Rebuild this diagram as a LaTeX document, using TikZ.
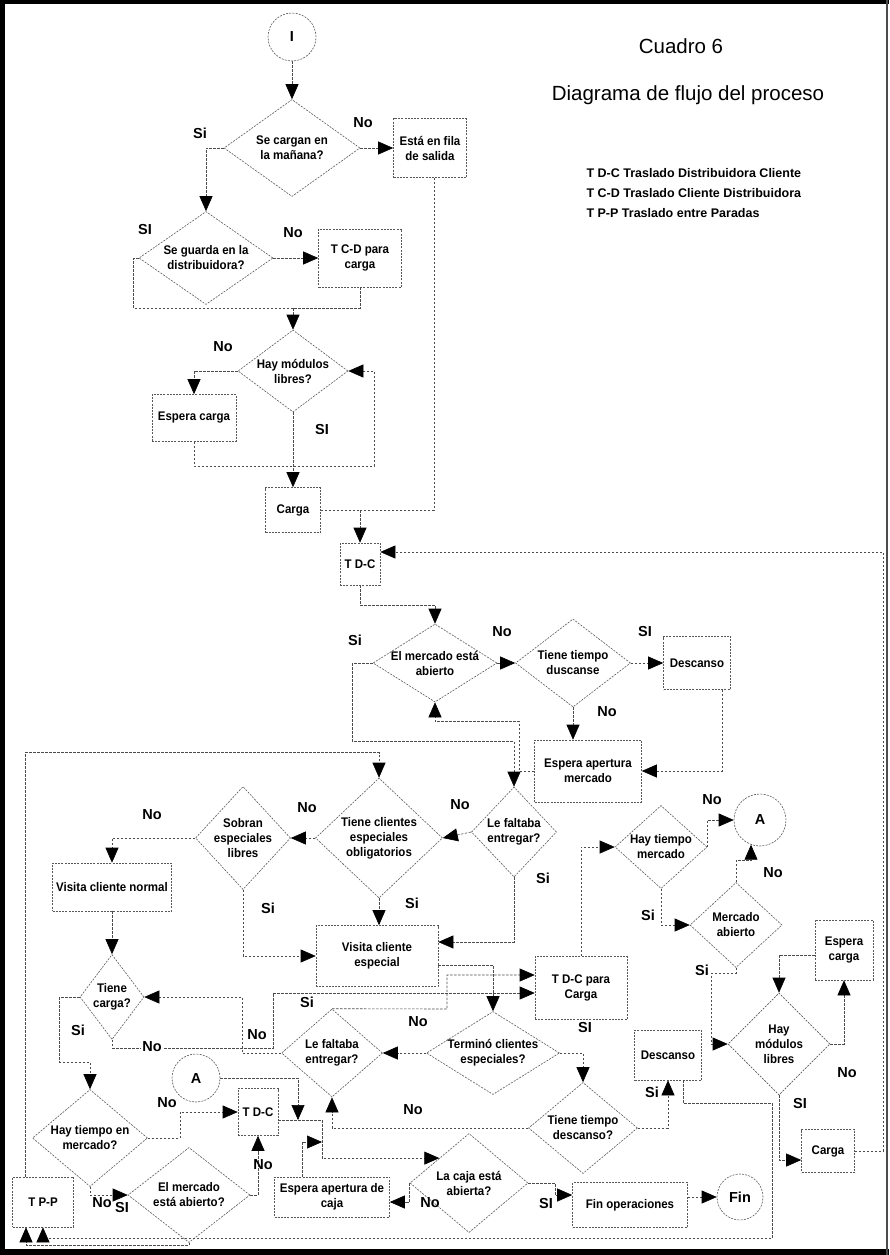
\documentclass[tikz,border=0pt]{standalone}
\usepackage{fontspec}
\setmainfont{Liberation Sans}
\newfontfamily\nfont[FakeStretch=0.92]{Liberation Sans}
\usetikzlibrary{arrows.meta,shapes.geometric}
\newcommand{\mynodefont}{\nfont\bfseries\fontsize{12.5}{15}\selectfont}
\newcommand{\mylabfont}{\bfseries\fontsize{14.5}{16}\selectfont}
\begin{document}
\begin{tikzpicture}[x=1pt,y=-1pt,
  ln/.style={draw=black!70, line width=0.6pt, dash pattern=on 2.5pt off 1.5pt},
  arr/.style={ln, -{Triangle[length=15pt,width=13pt,color=black]}},
  frm/.style={draw=black!65, line width=0.6pt, dash pattern=on 2pt off 1.2pt},
  bx/.style 2 args={frm, rectangle, minimum width=#1pt, minimum height=#2pt, inner sep=1pt, align=center, font=\mynodefont},
  dia/.style 2 args={frm, diamond, minimum width=#1pt, minimum height=#2pt, inner sep=0pt},
  dt/.style={align=center, font=\mynodefont, inner sep=0pt},
  cir/.style={frm, circle, minimum size=#1pt, inner sep=0pt, font=\mylabfont},
  lab/.style={font=\mylabfont, inner sep=1pt}]
\useasboundingbox (0,0) rectangle (889,1255);
% frame
\draw[line width=5pt] (2.5,0) -- (2.5,1255);
\draw[line width=4pt] (0,2) -- (889,2);
\draw[line width=6pt] (0,1252) -- (889,1252);
\draw[line width=1.2pt, black!70] (887,0) -- (887,1255);

% title
\node[font=\fontsize{20.5}{24}\selectfont] (t1) at (681,46) {Cuadro 6};
\node[font=\fontsize{20.5}{24}\selectfont] (t2) at (688,95) {Diagrama de flujo del proceso};
\node[anchor=west, font=\bfseries\fontsize{12.5}{14}\selectfont] (l1) at (583,173) {T D-C Traslado Distribuidora Cliente};
\node[anchor=west, font=\bfseries\fontsize{12.5}{14}\selectfont] (l2) at (583,193) {T C-D Traslado Cliente Distribuidora};
\node[anchor=west, font=\bfseries\fontsize{12.5}{14}\selectfont] (l3) at (583,213) {T P-P Traslado entre Paradas};

% nodes
\node[cir=48] (I) at (292,37) {I};
\node[dia={136}{97}, label={[dt]center:{Se cargan en\\la mañana?}}] (d1) at (292,148) {};
\node[bx={73}{59}] (fila) at (430,148) {Está en fila\\de salida};
\node[dia={134}{93}, label={[dt]center:{Se guarda en la\\distribuidora?}}] (d2) at (206,258) {};
\node[bx={83}{58}] (tcd) at (360,258) {T C-D para\\carga};
\coordinate (m1) at (293,308);
\node[dia={110}{82}, label={[dt]center:{Hay módulos\\libres?}}] (d3) at (293,371) {};
\node[bx={84}{47}] (espc) at (194,418) {Espera carga};
\node[bx={55}{45}] (carga1) at (293,510) {Carga};
\coordinate (m2) at (360,510);
\node[bx={40}{42}] (tdc1) at (360,564) {T D-C};
\node[dia={124}{78}, label={[dt]center:{El mercado está\\abierto}}] (d4) at (435,663) {};
\node[dia={115}{88}, label={[dt]center:{Tiene tiempo\\duscanse}}] (d5) at (573,663) {};
\node[bx={67}{53}] (desc1) at (697,663) {Descanso};
\node[bx={107}{62}] (espm) at (588,771) {Espera apertura\\mercado};
\node[dia={127}{120}, label={[dt]center:{Tiene clientes\\especiales\\obligatorios}}] (d6) at (379,838) {};
\node[dia={95}{103}, label={[dt]center:{Sobran\\especiales\\libres}}] (d7) at (243,838) {};
\node[dia={85}{90}, label={[dt]center:{Le faltaba\\entregar?}}] (d8) at (514,832) {};
\node[bx={119}{48}] (vcn) at (112,887) {Visita cliente normal};
\node[bx={122}{61}] (vce) at (377,956) {Visita cliente\\especial};
\node[dia={64}{85}, label={[dt]center:{Tiene\\carga?}}] (d9) at (112,997) {};
\node[dia={115}{97}, label={[dt]center:{Hay tiempo en\\mercado?}}] (d10) at (90,1138) {};
\node[cir=48] (A1) at (196,1078) {A};
\node[bx={40}{47}] (tdc2) at (258,1112) {T D-C};
\node[dia={101}{88}, label={[dt]center:{Le faltaba\\entregar?}}] (d11) at (332,1053) {};
\node[dia={133}{83}, label={[dt]center:{Terminó clientes\\especiales?}}] (d12) at (493,1053) {};
\node[bx={92}{63}] (tdcc) at (581,988) {T D-C para\\Carga};
\node[dia={109}{91}, label={[dt]center:{Tiene tiempo\\descanso?}}] (d13) at (583,1128) {};
\node[bx={67}{50}] (desc2) at (668,1055) {Descanso};
\node[bx={61}{50}] (tpp) at (43,1202) {T P-P};
\node[dia={122}{95}, label={[dt]center:{El mercado\\está abierto?}}] (d14) at (189,1195) {};
\node[bx={115}{40}] (espcj) at (332,1197) {Espera apertura de\\caja};
\node[dia={118}{99}, label={[dt]center:{La caja está\\abierta?}}] (d15) at (469,1183) {};
\node[bx={115}{45}] (finop) at (630,1205) {Fin operaciones};
\node[cir=46] (fin) at (740,1197) {Fin};
\node[dia={92}{83}, label={[dt]center:{Hay tiempo\\mercado}}] (d16) at (661,847) {};
\node[cir=52] (A2) at (760,820) {A};
\node[dia={92}{85}, label={[dt]center:{Mercado\\abierto}}] (d17) at (736,925) {};
\node[dia={102}{102}, label={[dt]center:{Hay\\módulos\\libres}}] (d18) at (779,1044) {};
\node[bx={58}{60}] (espc2) at (844,950) {Espera\\carga};
\node[bx={53}{43}] (carga2) at (828,1151) {Carga};
\coordinate (j0) at (298,1120);
\coordinate (j1) at (322,1120);
\coordinate (j2) at (322,1142);

% connectors
\draw[arr] (I.south) -- (d1.north);
\draw[arr] (d1.east) -- (fila.west);
\draw[arr] (d1.west) -| (d2.north);
\draw[arr] (d2.east) -- (tcd.west);
\draw[ln] (d2.west) -- ++(-5,0) |- (m1);
\draw[ln] (tcd.south) |- (m1);
\draw[arr] (m1) -- (d3.north);
\draw[arr] (d3.west) -| (espc.north);
\draw[arr] (espc.south) |- (374,466) |- (d3.east);
\draw[arr] (d3.south) -- (carga1.north);
\draw[ln] (carga1.east) -- (m2);
\draw[ln] ([xshift=4pt]fila.south) |- (m2);
\draw[arr] (m2) -- (tdc1.north);
\draw[arr] (carga2.east) -| (883,552) -- ([yshift=12pt]tdc1.east);
\draw[arr] (tdc1.south) -- ++(0,20) -| (d4.north);
\draw[arr] (d4.east) -- (d5.west);
\draw[arr] (d5.east) -- (desc1.west);
\draw[arr] (d5.south) -- (d5.south |- espm.north);
\draw[arr] ([xshift=25pt]desc1.south) |- (espm.east);
\draw[arr] (espm.west) -- ++(-15,0) |- ([yshift=-19pt]d4.south) -- (d4.south);
\draw[arr] (d4.west) -- ++(-20,0) |- ([yshift=45pt]d8.north) -- (d8.north);
\draw[arr] ([xshift=-18pt]tpp.north) |- ([yshift=25pt]d6.north) -- (d6.north);
\draw[arr] (d6.west) -- (d7.east);
\draw[arr] (d8.west) -- (d6.east);
\draw[arr] (d7.west) -| (vcn.north);
\draw[arr] (d6.south) -- (d6.south |- vce.north);
\draw[arr] (d7.south) |- (vce.west);
\draw[arr] (d8.south) |- ([yshift=14pt]vce.east);
\draw[arr] (vcn.south) -- (d9.north);
\draw[arr] (d9.west) -- ++(-20,0) |- ([yshift=27pt]d10.north) -- (d10.north);
\draw[arr] (d9.south) -- ++(0,8) -| (273,993) -- ([yshift=-5pt]tdcc.west);
\draw[arr] (d11.west) -- (242,1053) |- (d9.east);
\draw[arr] (d11.north) -- (447,1009) |- ([yshift=13pt]tdcc.west);
\draw[arr] ([yshift=-9pt]vce.east) -| (d12.north);
\draw[arr] (d12.west) -- (d11.east);
\draw[arr] (d12.east) -| (d13.north);
\draw[arr] (d13.east) -| (desc2.south);
\draw[arr] (d13.west) -| (d11.south);
\draw[arr] ([xshift=15pt]desc2.south) |- (772,1103) |- ([yshift=-11pt]tpp.south) -- (tpp.south);
\draw[arr] (d14.south) |- ([xshift=-17pt,yshift=-18pt]tpp.south) -- ([xshift=-17pt]tpp.south);
\draw[arr] (d10.south) |- (d14.west);
\draw[arr] (d10.east) -- ++(32,0) |- (tdc2.west);
\draw[arr] (d14.east) -| (tdc2.south);
\draw[arr] (A1.east) -| (j0);
\draw[ln] ([yshift=-8pt]tdc2.east) -- (j1);
\draw[arr] (j1) |- (d15.north west);
\draw[arr] ([xshift=-30pt]espcj.north) |- (j2);
\draw[arr] (d15.west) |- ([yshift=-5pt]espcj.east);
\draw[arr] (d15.east) -- ++(27,0) |- ([yshift=10pt]finop.west);
\draw[arr] ([yshift=8pt]finop.east) -- (fin.west);
\draw[arr] (tdcc.north) |- (d16.west);
\draw[arr] (d16.east) |- (A2.west);
\draw[arr] (d16.south) |- (d17.west);
\draw[arr] (d17.north) -- ++(0,-22) -| (A2.-110);
\draw[arr] (d17.south) -- ++(0,5) -| ([xshift=-16pt]d18.west) -- (d18.west);
\draw[arr] (d18.east) -| (espc2.south);
\draw[arr] ([yshift=-5pt]espc2.west) -| (d18.north);
\draw[arr] (d18.south) |- ([yshift=-9pt]carga2.west);

% labels
\node[lab] (s1) at (200,133) {Si};
\node[lab] (n1) at (363,123) {No};
\node[lab] (s2) at (145,230) {SI};
\node[lab] (n2) at (293,233) {No};
\node[lab] (n3) at (223,347) {No};
\node[lab] (s3) at (322,430) {SI};
\node[lab] (s4) at (355,640) {Si};
\node[lab] (n4) at (502,632) {No};
\node[lab] (s5) at (645,632) {SI};
\node[lab] (n5) at (607,712) {No};
\node[lab] (n7) at (152,815) {No};
\node[lab] (n6) at (307,808) {No};
\node[lab] (s7) at (268,908) {Si};
\node[lab] (s6) at (412,903) {Si};
\node[lab] (n8) at (460,805) {No};
\node[lab] (s8) at (543,878) {Si};
\node[lab] (s9) at (78,1030) {Si};
\node[lab, fill=white] (n9) at (152,1047) {No};
\node[lab] (n11) at (257,1035) {No};
\node[lab] (s11) at (307,1002) {Si};
\node[lab] (n12) at (418,1022) {No};
\node[lab] (s12) at (585,1027) {SI};
\node[lab] (n13) at (413,1110) {No};
\node[lab] (s13) at (652,1092) {Si};
\node[lab] (n10) at (167,1103) {No};
\node[lab] (n14) at (263,1165) {No};
\node[lab] (n10b) at (102,1203) {No};
\node[lab] (s14) at (122,1207) {SI};
\node[lab] (n15) at (430,1203) {No};
\node[lab] (s15) at (546,1203) {SI};
\node[lab] (n16) at (712,800) {No};
\node[lab] (s16) at (648,915) {Si};
\node[lab] (n17) at (773,873) {No};
\node[lab] (s17) at (702,970) {Si};
\node[lab] (n18) at (847,1073) {No};
\node[lab] (s18) at (800,1103) {SI};
\end{tikzpicture}
\end{document}
